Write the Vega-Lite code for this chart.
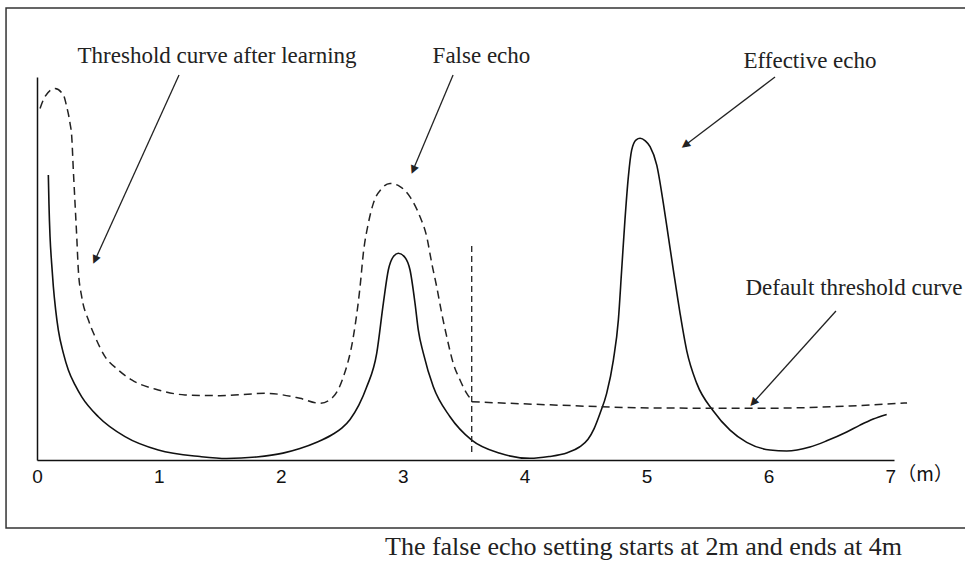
{
  "$schema": "https://vega.github.io/schema/vega-lite/v6.json",
  "width": 857,
  "height": 383,
  "autosize": {"type": "none"},
  "padding": {"left": 37, "top": 77, "right": 71, "bottom": 102},
  "background": "white",
  "config": {"view": {"stroke": null}},
  "datasets": {
    "curves": [
      {"s": "echo", "x": 0.093, "y": 74.4},
      {"s": "echo", "x": 0.098, "y": 67.0},
      {"s": "echo", "x": 0.107, "y": 58.3},
      {"s": "echo", "x": 0.12, "y": 51.4},
      {"s": "echo", "x": 0.134, "y": 45.3},
      {"s": "echo", "x": 0.153, "y": 39.2},
      {"s": "echo", "x": 0.175, "y": 33.9},
      {"s": "echo", "x": 0.216, "y": 27.9},
      {"s": "echo", "x": 0.257, "y": 23.5},
      {"s": "echo", "x": 0.312, "y": 19.6},
      {"s": "echo", "x": 0.367, "y": 16.5},
      {"s": "echo", "x": 0.503, "y": 11.3},
      {"s": "echo", "x": 0.722, "y": 6.1},
      {"s": "echo", "x": 0.995, "y": 2.6},
      {"s": "echo", "x": 1.337, "y": 0.9},
      {"s": "echo", "x": 1.556, "y": 0.4},
      {"s": "echo", "x": 1.8, "y": 0.8},
      {"s": "echo", "x": 2.018, "y": 1.8},
      {"s": "echo", "x": 2.157, "y": 3.0},
      {"s": "echo", "x": 2.3, "y": 4.7},
      {"s": "echo", "x": 2.42, "y": 6.6},
      {"s": "echo", "x": 2.5, "y": 8.3},
      {"s": "echo", "x": 2.568, "y": 10.6},
      {"s": "echo", "x": 2.64, "y": 14.3},
      {"s": "echo", "x": 2.705, "y": 19.1},
      {"s": "echo", "x": 2.787, "y": 27.9},
      {"s": "echo", "x": 2.841, "y": 40.9},
      {"s": "echo", "x": 2.882, "y": 49.6},
      {"s": "echo", "x": 2.923, "y": 53.1},
      {"s": "echo", "x": 2.964, "y": 54.0},
      {"s": "echo", "x": 3.019, "y": 52.9},
      {"s": "echo", "x": 3.06, "y": 49.6},
      {"s": "echo", "x": 3.101, "y": 40.9},
      {"s": "echo", "x": 3.128, "y": 33.9},
      {"s": "echo", "x": 3.169, "y": 27.9},
      {"s": "echo", "x": 3.251, "y": 19.1},
      {"s": "echo", "x": 3.388, "y": 11.3},
      {"s": "echo", "x": 3.566, "y": 5.2},
      {"s": "echo", "x": 3.798, "y": 1.75},
      {"s": "echo", "x": 4.044, "y": 0.44},
      {"s": "echo", "x": 4.2, "y": 0.9},
      {"s": "echo", "x": 4.35, "y": 1.9},
      {"s": "echo", "x": 4.45, "y": 3.4},
      {"s": "echo", "x": 4.52, "y": 5.4},
      {"s": "echo", "x": 4.57, "y": 8.2},
      {"s": "echo", "x": 4.619, "y": 12.2},
      {"s": "echo", "x": 4.673, "y": 17.4},
      {"s": "echo", "x": 4.728, "y": 26.1},
      {"s": "echo", "x": 4.769, "y": 36.6},
      {"s": "echo", "x": 4.796, "y": 49.6},
      {"s": "echo", "x": 4.823, "y": 62.7},
      {"s": "echo", "x": 4.851, "y": 74.0},
      {"s": "echo", "x": 4.878, "y": 80.9},
      {"s": "echo", "x": 4.915, "y": 83.6},
      {"s": "echo", "x": 4.947, "y": 84.0},
      {"s": "echo", "x": 4.99, "y": 83.3},
      {"s": "echo", "x": 5.029, "y": 81.8},
      {"s": "echo", "x": 5.084, "y": 77.0},
      {"s": "echo", "x": 5.138, "y": 67.0},
      {"s": "echo", "x": 5.179, "y": 58.3},
      {"s": "echo", "x": 5.22, "y": 49.6},
      {"s": "echo", "x": 5.275, "y": 38.3},
      {"s": "echo", "x": 5.33, "y": 28.5},
      {"s": "echo", "x": 5.412, "y": 20.0},
      {"s": "echo", "x": 5.548, "y": 12.8},
      {"s": "echo", "x": 5.685, "y": 7.8},
      {"s": "echo", "x": 5.822, "y": 4.6},
      {"s": "echo", "x": 6.013, "y": 2.6},
      {"s": "echo", "x": 6.15, "y": 2.35},
      {"s": "echo", "x": 6.34, "y": 3.4},
      {"s": "echo", "x": 6.478, "y": 5.0},
      {"s": "echo", "x": 6.642, "y": 7.3},
      {"s": "echo", "x": 6.751, "y": 9.1},
      {"s": "echo", "x": 6.86, "y": 10.7},
      {"s": "echo", "x": 6.97, "y": 11.9},
      {"s": "learned", "x": 0.025, "y": 91.8},
      {"s": "learned", "x": 0.066, "y": 94.9},
      {"s": "learned", "x": 0.148, "y": 97.0},
      {"s": "learned", "x": 0.216, "y": 95.3},
      {"s": "learned", "x": 0.244, "y": 92.2},
      {"s": "learned", "x": 0.271, "y": 87.9},
      {"s": "learned", "x": 0.285, "y": 84.4},
      {"s": "learned", "x": 0.298, "y": 75.7},
      {"s": "learned", "x": 0.312, "y": 67.0},
      {"s": "learned", "x": 0.326, "y": 58.3},
      {"s": "learned", "x": 0.339, "y": 49.6},
      {"s": "learned", "x": 0.367, "y": 42.6},
      {"s": "learned", "x": 0.421, "y": 36.6},
      {"s": "learned", "x": 0.476, "y": 32.2},
      {"s": "learned", "x": 0.558, "y": 27.0},
      {"s": "learned", "x": 0.667, "y": 23.5},
      {"s": "learned", "x": 0.777, "y": 20.9},
      {"s": "learned", "x": 0.995, "y": 18.3},
      {"s": "learned", "x": 1.214, "y": 17.0},
      {"s": "learned", "x": 1.5, "y": 16.8},
      {"s": "learned", "x": 1.884, "y": 17.4},
      {"s": "learned", "x": 2.157, "y": 16.1},
      {"s": "learned", "x": 2.322, "y": 14.8},
      {"s": "learned", "x": 2.43, "y": 16.5},
      {"s": "learned", "x": 2.513, "y": 21.7},
      {"s": "learned", "x": 2.595, "y": 32.2},
      {"s": "learned", "x": 2.65, "y": 45.2},
      {"s": "learned", "x": 2.677, "y": 54.0},
      {"s": "learned", "x": 2.718, "y": 61.8},
      {"s": "learned", "x": 2.759, "y": 67.0},
      {"s": "learned", "x": 2.828, "y": 70.9},
      {"s": "learned", "x": 2.896, "y": 72.2},
      {"s": "learned", "x": 2.978, "y": 71.4},
      {"s": "learned", "x": 3.06, "y": 68.7},
      {"s": "learned", "x": 3.142, "y": 63.5},
      {"s": "learned", "x": 3.197, "y": 58.3},
      {"s": "learned", "x": 3.238, "y": 51.4},
      {"s": "learned", "x": 3.279, "y": 45.2},
      {"s": "learned", "x": 3.32, "y": 38.3},
      {"s": "learned", "x": 3.361, "y": 32.2},
      {"s": "learned", "x": 3.415, "y": 25.2},
      {"s": "learned", "x": 3.47, "y": 20.9},
      {"s": "learned", "x": 3.525, "y": 17.4},
      {"s": "learned", "x": 3.566, "y": 15.6},
      {"s": "default", "x": 3.566, "y": 15.2},
      {"s": "default", "x": 4.208, "y": 14.4},
      {"s": "default", "x": 5.029, "y": 13.6},
      {"s": "default", "x": 5.931, "y": 13.5},
      {"s": "default", "x": 6.669, "y": 14.1},
      {"s": "default", "x": 7.137, "y": 14.9}
    ],
    "arrows": [
      {"a": "learned", "x": 1.165, "y": 100.5, "x2": 0.476, "y2": 52.2},
      {"a": "false", "x": 3.413, "y": 100.5, "x2": 3.085, "y2": 75.7},
      {"a": "effective", "x": 6.054, "y": 100.0, "x2": 5.316, "y2": 82.2},
      {"a": "default", "x": 6.554, "y": 38.9, "x2": 5.874, "y2": 14.9}
    ],
    "labels": [
      {"t": "Threshold curve after learning", "x": 1.477, "y": 103.7},
      {"t": "False echo", "x": 3.646, "y": 103.7},
      {"t": "Effective echo", "x": 6.341, "y": 102.3},
      {"t": "Default threshold curve", "x": 6.702, "y": 43.1}
    ],
    "caption": [{"t": "The false echo setting starts at 2m and ends at 4m", "x": 4.975, "y": -24.8}],
    "unit": [{"t": "（m）", "x": 7.285, "y": -3.9}],
    "frame": [{"x": -0.254, "x2": 7.7, "y": 118.0, "y2": -17.75}],
    "marker": [{"x": 3.566, "y": 2.1, "y2": 56.1}]
  },
  "encoding": {
    "x": {
      "field": "x", "type": "quantitative",
      "scale": {"domain": [0, 7.03], "nice": false, "zero": false},
      "axis": {
        "title": null, "values": [0, 1, 2, 3, 4, 5, 6, 7], "ticks": false, "grid": false,
        "labelFont": "Liberation Sans", "labelFontSize": 19, "labelColor": "#111",
        "labelPadding": 7, "domainColor": "#111", "domainWidth": 1.5,
        "labelFlush": false, "labelOverlap": false
      }
    },
    "y": {
      "field": "y", "type": "quantitative",
      "scale": {"domain": [0, 100], "nice": false, "zero": false},
      "axis": {"title": null, "labels": false, "ticks": false, "grid": false, "domainColor": "#111", "domainWidth": 1.5}
    }
  },
  "layer": [
    {
      "data": {"name": "frame"},
      "mark": {"type": "rect", "fill": null, "fillOpacity": 0, "stroke": "#333", "strokeWidth": 1.5},
      "encoding": {"x2": {"field": "x2"}, "y2": {"field": "y2"}}
    },
    {
      "data": {"name": "curves"},
      "transform": [{"filter": "datum.s === 'echo'"}],
      "mark": {"type": "line", "interpolate": "monotone", "color": "#111", "strokeWidth": 1.6},
      "encoding": {"order": {"field": "x", "type": "quantitative"}}
    },
    {
      "data": {"name": "curves"},
      "transform": [{"filter": "datum.s !== 'echo'"}],
      "mark": {"type": "line", "interpolate": "monotone", "color": "#222", "strokeWidth": 1.5, "strokeDash": [8, 5]},
      "encoding": {"detail": {"field": "s"}, "order": {"field": "x", "type": "quantitative"}}
    },
    {
      "data": {"name": "marker"},
      "mark": {"type": "rule", "color": "#222", "strokeWidth": 1.3, "strokeDash": [6, 4]},
      "encoding": {"y2": {"field": "y2"}}
    },
    {
      "data": {"name": "arrows"},
      "mark": {"type": "rule", "color": "#222", "strokeWidth": 1.3},
      "encoding": {"x2": {"field": "x2"}, "y2": {"field": "y2"}}
    },
    {
      "data": {"name": "arrows"},
      "transform": [{"filter": "datum.a === 'learned'"}],
      "mark": {"type": "text", "text": "▲", "font": "DejaVu Sans", "fontSize": 11, "color": "#222", "align": "center", "baseline": "middle", "angle": 204.4},
      "encoding": {"x": {"field": "x2", "type": "quantitative"}, "y": {"field": "y2", "type": "quantitative"}}
    },
    {
      "data": {"name": "arrows"},
      "transform": [{"filter": "datum.a === 'false'"}],
      "mark": {"type": "text", "text": "▲", "font": "DejaVu Sans", "fontSize": 11, "color": "#222", "align": "center", "baseline": "middle", "angle": 202.8},
      "encoding": {"x": {"field": "x2", "type": "quantitative"}, "y": {"field": "y2", "type": "quantitative"}}
    },
    {
      "data": {"name": "arrows"},
      "transform": [{"filter": "datum.a === 'effective'"}],
      "mark": {"type": "text", "text": "▲", "font": "DejaVu Sans", "fontSize": 11, "color": "#222", "align": "center", "baseline": "middle", "angle": 232.9},
      "encoding": {"x": {"field": "x2", "type": "quantitative"}, "y": {"field": "y2", "type": "quantitative"}}
    },
    {
      "data": {"name": "arrows"},
      "transform": [{"filter": "datum.a === 'default'"}],
      "mark": {"type": "text", "text": "▲", "font": "DejaVu Sans", "fontSize": 11, "color": "#222", "align": "center", "baseline": "middle", "angle": 222.0},
      "encoding": {"x": {"field": "x2", "type": "quantitative"}, "y": {"field": "y2", "type": "quantitative"}}
    },
    {
      "data": {"name": "labels"},
      "mark": {"type": "text", "font": "Liberation Serif", "fontSize": 23, "color": "#222", "align": "center", "baseline": "alphabetic"},
      "encoding": {"text": {"field": "t"}}
    },
    {
      "data": {"name": "caption"},
      "mark": {"type": "text", "font": "Liberation Serif", "fontSize": 26, "color": "#222", "align": "center", "baseline": "alphabetic"},
      "encoding": {"text": {"field": "t"}}
    },
    {
      "data": {"name": "unit"},
      "mark": {"type": "text", "font": "Noto Sans CJK SC", "fontSize": 19, "color": "#111", "align": "center", "baseline": "middle"},
      "encoding": {"text": {"field": "t"}}
    }
  ]
}
